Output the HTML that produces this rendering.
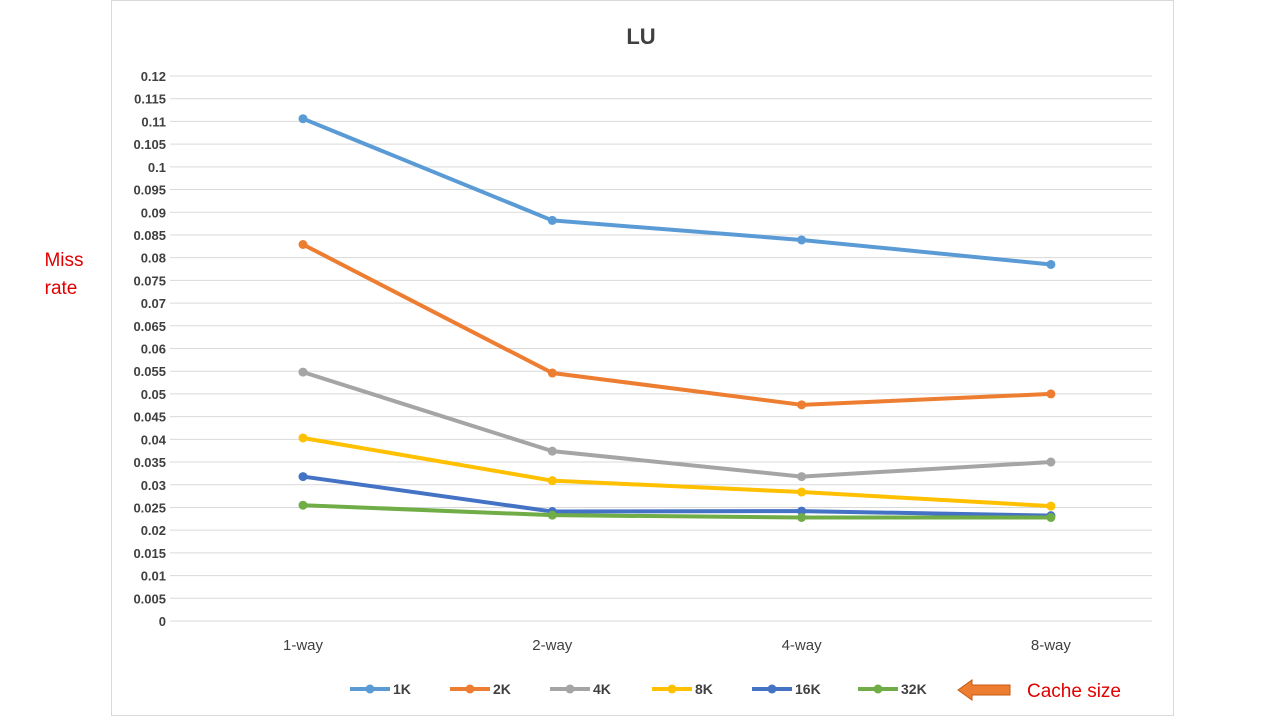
<!DOCTYPE html>
<html><head><meta charset="utf-8"><style>
body{margin:0;background:#fff;width:1280px;height:720px;overflow:hidden;font-family:"Liberation Sans",sans-serif}
</style></head><body>
<svg id="chart" width="1280" height="720">
<rect x="111.5" y="0.5" width="1062" height="715" fill="#fff" stroke="#d9d9d9"/>
<text x="641" y="44" text-anchor="middle" font-size="22" font-weight="bold" fill="#404040">LU</text>
<text x="64" y="266" text-anchor="middle" font-size="19" fill="#e00000">Miss</text>
<text x="61" y="294" text-anchor="middle" font-size="19" fill="#e00000">rate</text>
<g id="grid"></g><g id="series"></g><g id="legend"></g>
<polygon points="958,690 972,680 972,685 1010,685 1010,695 972,695 972,700" fill="#ed7d31" stroke="#c55a11" stroke-width="1"/>
<text x="1027" y="697" font-size="19" fill="#e00000">Cache size</text>
</svg>
<script>
const categories=["1-way","2-way","4-way","8-way"];
const seriesNames=["1K","2K","4K","8K","16K","32K"];
const s1K=[0.1106,0.0882,0.0839,0.0785];
const s2K=[0.0829,0.0546,0.0476,0.0500];
const s4K=[0.0548,0.0374,0.0318,0.0350];
const s8K=[0.0403,0.0309,0.0284,0.0253];
const s16K=[0.0318,0.0241,0.0242,0.0232];
const s32K=[0.0255,0.0233,0.0228,0.0228];
const yTicks=["0","0.005","0.01","0.015","0.02","0.025","0.03","0.035","0.04","0.045","0.05","0.055","0.06","0.065","0.07","0.075","0.08","0.085","0.09","0.095","0.1","0.105","0.11","0.115","0.12"];
const colors=["#5b9bd5","#ed7d31","#a5a5a5","#ffc000","#4472c4","#70ad47"];
const all=[s1K,s2K,s4K,s8K,s16K,s32K];
const NS="http://www.w3.org/2000/svg";
const y=v=>621-v/0.12*545;
const x=i=>303+i*249.3;
function mk(t,a,p){const e=document.createElementNS(NS,t);for(const k in a)e.setAttribute(k,a[k]);p.appendChild(e);return e;}
const g=document.getElementById('grid');
yTicks.forEach(t=>{const v=parseFloat(t);
 const l=mk('line',{x1:170,x2:1152,y1:y(v),y2:y(v),stroke:'#d9d9d9','stroke-width':1},g);
 
 
 const tx=mk('text',{x:166,y:y(v)+5,'text-anchor':'end','font-size':13,'font-weight':'bold',fill:'#404040'},g);
 tx.textContent=t;
 
 
});
categories.forEach((c,i)=>{const tx=mk('text',{x:x(i),y:650,'text-anchor':'middle','font-size':15,fill:'#404040'},g);
 tx.textContent=c;
 
 
});
const sg=document.getElementById('series');
all.forEach((s,k)=>{
 const p=mk('polyline',{points:s.map((v,i)=>x(i)+','+y(v)).join(' '),fill:'none',stroke:colors[k],'stroke-width':4,'stroke-linejoin':'round'},sg);
 
 
 s.forEach((v,i)=>{const c=mk('circle',{cx:x(i),cy:y(v),r:4.5,fill:colors[k]},sg);
  
  });
});
const lg=document.getElementById('legend');
const lx=[350,450,550,652,752,858];
seriesNames.forEach((n,k)=>{
 const l=mk('line',{x1:lx[k],x2:lx[k]+40,y1:689,y2:689,stroke:colors[k],'stroke-width':4},lg);
 
 
 const c=mk('circle',{cx:lx[k]+20,cy:689,r:4.5,fill:colors[k]},lg);
 
 
 const t=mk('text',{x:lx[k]+43,y:694,'font-size':14,'font-weight':'bold',fill:'#404040'},lg);
 t.textContent=n;
 
 
});
</script>
</body></html>
